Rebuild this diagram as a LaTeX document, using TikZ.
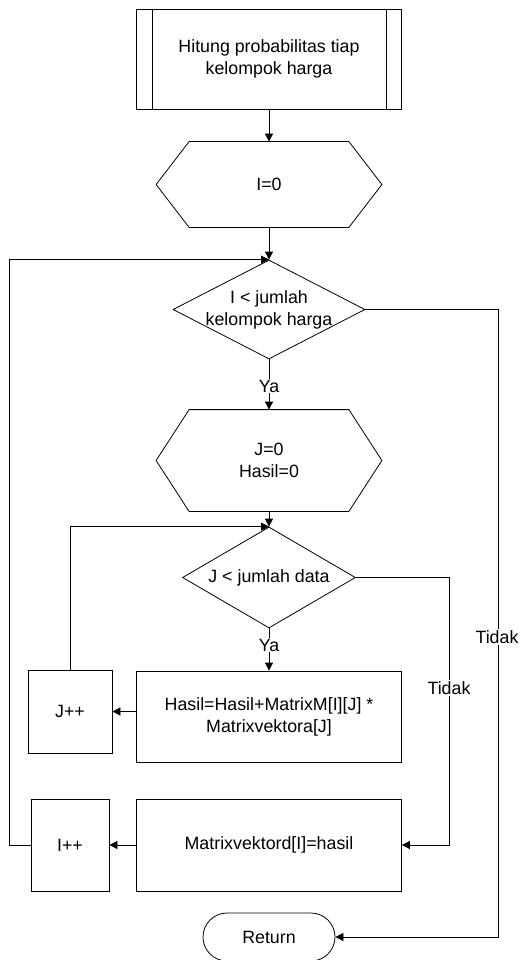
\documentclass[tikz,border=0pt]{standalone}
\usepackage{fontspec}
\setmainfont{Liberation Sans}
\usetikzlibrary{shapes.geometric,arrows.meta}
% outline of a preparation hexagon round the node #1
\newcommand{\hexbox}[1]{%
  \draw ([xshift=33pt]#1.north west) -- ([xshift=-33pt]#1.north east) -- (#1.east)
    -- ([xshift=-33pt]#1.south east) -- ([xshift=33pt]#1.south west) -- (#1.west) -- cycle;}
\begin{document}
\begin{tikzpicture}[x=1pt, y=-1pt, line width=0.8pt, font=\fontsize{17.8}{22}\selectfont,
	box/.style={draw, rectangle, align=center, inner sep=0pt},
	hexa/.style={rectangle, align=center, inner sep=0pt, minimum width=225pt},
	decision/.style={draw, diamond, inner sep=0pt},
	arrow/.style={-{Triangle[length=8pt,width=8pt]}},
	tag/.style={fill=white, inner sep=1pt}]
	\useasboundingbox (0,0) rectangle (520,960);

	\node[box, minimum width=265pt, minimum height=100pt] (hitung) at (269,59) {Hitung probabilitas tiap\\kelompok harga};
	\draw ([xshift=16pt]hitung.north west) -- ([xshift=16pt]hitung.south west);
	\draw ([xshift=-16pt]hitung.north east) -- ([xshift=-16pt]hitung.south east);

	\node[hexa, minimum height=85pt] (initI) at (269,184.5) {I=0};
	\hexbox{initI}

	\node[decision, minimum width=192pt, minimum height=99pt] (cekI) at (269,309.5) {};
	\node[align=center, inner sep=0pt] (cekItxt) at (cekI) {I < jumlah\\kelompok harga};

	\node[hexa, minimum height=101pt] (initJ) at (269,460.5) {J=0\\Hasil=0};
	\hexbox{initJ}

	\node[decision, minimum width=173pt, minimum height=101pt] (cekJ) at (269,577.5) {};
	\node[inner sep=0pt] (cekJtxt) at (cekJ) {J < jumlah data};

	\node[box, minimum width=265pt, minimum height=91pt] (hasil) at (269,716.5) {Hasil=Hasil+MatrixM[I][J] *\\Matrixvektora[J]};
	\node[box, minimum width=84pt, minimum height=83pt] (incJ) at (70,711.5) {J++};
	\node[box, minimum width=265pt, minimum height=92pt] (simpan) at (269,845) {Matrixvektord[I]=hasil};
	\node[box, minimum width=78pt, minimum height=92pt] (incI) at (70,845) {I++};
	\node[draw, rounded corners=24pt, minimum width=132pt, minimum height=48pt] (ret) at (269,937) {Return};

	% main flow
	\draw[arrow] (hitung) -- (initI);
	\draw[arrow] (initI) -- (cekI.north);
	\draw[arrow] (cekI.south) -- node[tag, pos=0.53] (yaI) {Ya} (initJ);
	\draw[arrow] (initJ) -- (cekJ.north);
	\draw[arrow] (cekJ.south) -- node[tag, pos=0.4] (yaJ) {Ya} (hasil);
	\draw[arrow] (hasil.west |- incJ) -- (incJ);
	\draw[arrow] (simpan) -- (incI);

	% loops back
	\draw[arrow] (incJ.north) |- (cekJ.north);
	\draw[arrow] (incI.west) -- ++(-21,0) |- (cekI.north);

	% exits
	\coordinate (kananJ) at (449,577.5);
	\draw[arrow] (cekJ.east) -- (kananJ) |- (simpan.east);
	\node[tag] (tidakJ) at (449,688) {Tidak};
	\coordinate (kananI) at (498,309.5);
	\draw[arrow] (cekI.east) -- (kananI) |- (ret.east);
	\node[tag] (tidakI) at (497,637) {Tidak};
\end{tikzpicture}
\end{document}
